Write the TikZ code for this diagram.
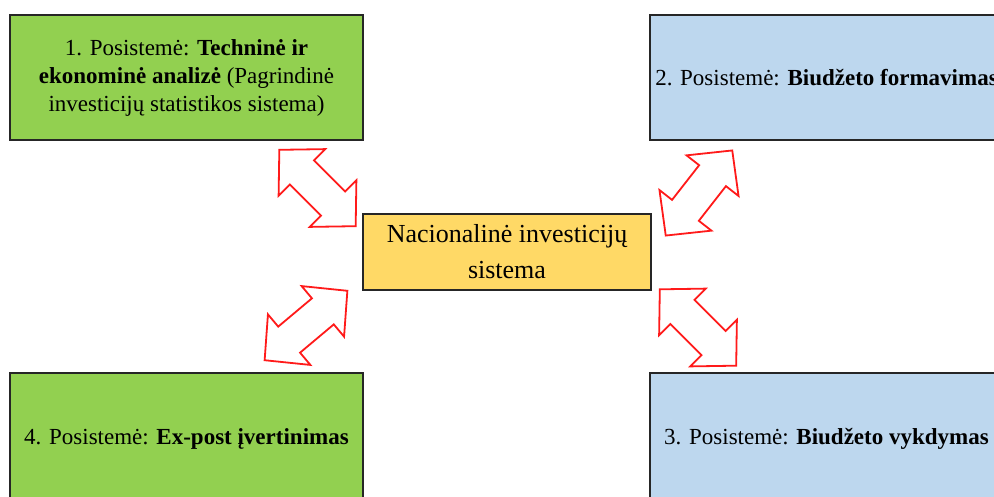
\documentclass[tikz,border=0pt]{standalone}
\usepackage{fontspec}
\setmainfont{Liberation Serif}
\definecolor{boxgreen}{HTML}{92D050}
\definecolor{boxblue}{HTML}{BDD7EE}
\definecolor{boxyellow}{HTML}{FFD966}
\definecolor{boxline}{HTML}{262626}
\definecolor{arrred}{HTML}{FF1A1A}
\tikzset{
  subbox/.style={draw=boxline, line width=1.5pt, inner sep=0pt, align=center,
    minimum width=353pt, font=\fontsize{23}{28}\selectfont},
  centerbox/.style={draw=boxline, line width=1.5pt, inner sep=0pt, align=center,
    fill=boxyellow, minimum width=288pt, minimum height=76pt,
    font=\fontsize{26}{36}\selectfont},
  arrowline/.style={draw=arrred, fill=white, line width=1.8pt, line join=miter},
  dblarrow/.pic={
    \path[arrowline] (54,0) -- (22,33) -- (22,17) -- (-22,17) -- (-22,33)
      -- (-54,0) -- (-22,-33) -- (-22,-17) -- (22,-17) -- (22,-33) -- cycle;
  }
}
\begin{document}
\begin{tikzpicture}[x=1pt,y=-1pt]
\useasboundingbox (0,0) rectangle (994,496);
\clip (0,0) rectangle (994,496);
\node[subbox, fill=boxgreen, minimum height=125pt] (s1) at (186.5,77.5)
  {1. Posistemė: \textbf{Techninė ir}\\ \textbf{ekonominė analizė} (Pagrindinė\\ investicijų statistikos sistema)};
\node[subbox, fill=boxblue, minimum height=125pt] (s2) at (826.5,77.5)
  {2. Posistemė: \textbf{Biudžeto formavimas}};
\node[subbox, fill=boxblue, minimum height=132pt] (s3) at (826.5,439)
  {3. Posistemė: \textbf{Biudžeto vykdymas}};
\node[subbox, fill=boxgreen, minimum height=132pt] (s4) at (186.5,439)
  {4. Posistemė: \textbf{Ex-post įvertinimas}};
\node[centerbox] (c) at (507,252) {Nacionalinė investicijų\\ sistema};
\pic[rotate=-45] (a1) at (317.5,188) {dblarrow};
\pic[rotate=52] (a2) at (699,193) {dblarrow};
\pic[rotate=40] (a3) at (306,325.5) {dblarrow};
\pic[rotate=-45] (a4) at (698,327.5) {dblarrow};
\end{tikzpicture}
\end{document}
